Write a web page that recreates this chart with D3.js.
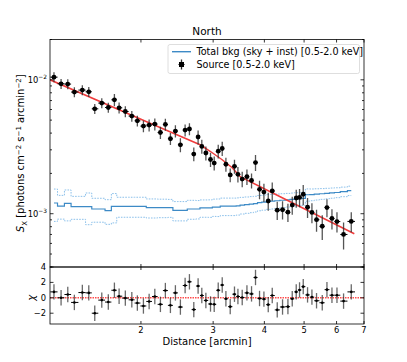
<!DOCTYPE html>
<html><head><meta charset="utf-8">
<script src="https://cdn.jsdelivr.net/npm/d3@7"></script>
<style>body{margin:0;background:#fff} svg{display:block} text{font-family:"DejaVu Sans",sans-serif;fill:#000}</style>
</head><body><svg id="c" width="407" height="362"></svg>
<script>
// ---------------- data ----------------
const distance = [1.227,1.277,1.326,1.376,1.439,1.492,1.543,1.605,1.665,1.723,
  1.769,1.832,1.900,1.960,2.028,2.094,2.162,2.231,2.294,2.360,
  2.427,2.496,2.563,2.626,2.691,2.757,2.815,2.880,2.956,3.018,
  3.087,3.157,3.223,3.302,3.382,3.448,3.532,3.627,3.722,3.806,
  3.893,3.990,4.088,4.181,4.300,4.430,4.566,4.678,4.784,4.874,
  4.976,5.098,5.225,5.362,5.537,5.685,5.847,6.014,6.241,6.517];
const flux = [1.047e-2,9.34e-3,9.29e-3,8.10e-3,8.38e-3,8.14e-3,6.07e-3,6.70e-3,6.21e-3,7.09e-3,
  6.18e-3,5.80e-3,5.36e-3,4.94e-3,4.51e-3,4.59e-3,4.67e-3,4.04e-3,4.64e-3,3.63e-3,
  4.14e-3,3.27e-3,4.21e-3,4.29e-3,2.79e-3,3.74e-3,3.18e-3,2.84e-3,2.54e-3,2.39e-3,
  2.93e-3,3.07e-3,2.34e-3,1.95e-3,2.26e-3,1.97e-3,1.815e-3,1.89e-3,1.77e-3,2.41e-3,
  1.52e-3,1.45e-3,1.244e-3,1.48e-3,1.062e-3,1.071e-3,1.026e-3,1.161e-3,1.31e-3,1.323e-3,
  1.398e-3,1.118e-3,1.023e-3,9.02e-4,8.06e-4,1.112e-3,9.22e-4,8.74e-4,7.0e-4,8.76e-4];
const fluxErr = [9.0e-4,8.0e-4,8.0e-4,7.0e-4,7.2e-4,7.0e-4,5.2e-4,5.8e-4,5.3e-4,7.3e-4,
  5.8e-4,5.5e-4,5.0e-4,4.6e-4,4.6e-4,4.7e-4,4.8e-4,4.2e-4,4.8e-4,3.7e-4,
  4.3e-4,3.9e-4,4.3e-4,4.4e-4,3.3e-4,4.5e-4,3.8e-4,3.4e-4,3.1e-4,2.9e-4,
  3.5e-4,3.7e-4,2.8e-4,2.3e-4,2.7e-4,2.6e-4,2.4e-4,2.5e-4,2.3e-4,3.3e-4,
  2.4e-4,2.25e-4,1.9e-4,2.3e-4,1.65e-4,1.66e-4,1.6e-4,1.8e-4,2.0e-4,2.05e-4,
  2.4e-4,1.9e-4,1.75e-4,1.7e-4,1.7e-4,1.7e-4,1.6e-4,1.5e-4,1.6e-4,1.5e-4];
const chi = [0.77,0.0,0.43,-0.6,0.68,0.64,-2.0,-0.3,-0.55,0.98,
  0.21,-0.04,-0.26,-0.68,-1.06,-0.47,0.17,-0.85,0.94,-0.98,
  0.64,-1.2,1.6,2.08,-1.53,1.53,0.3,-0.34,-0.8,-0.85,
  0.98,1.66,-0.13,-1.15,0.47,0.17,0.04,0.64,0.51,2.64,
  -0.09,-0.17,-0.89,0.3,-1.57,-1.19,-1.15,-0.13,0.77,1.02,
  1.45,0.38,0.09,-0.38,-0.64,1.06,0.34,0.34,-0.43,0.77];
const bkg = [1.202e-3,1.141e-3,1.194e-3,1.128e-3,1.128e-3,1.128e-3,1.084e-3,1.084e-3,1.053e-3,1.134e-3,
  1.134e-3,1.134e-3,1.134e-3,1.134e-3,1.134e-3,1.109e-3,1.109e-3,1.109e-3,1.109e-3,1.109e-3,
  1.058e-3,1.058e-3,1.058e-3,1.084e-3,1.084e-3,1.084e-3,1.104e-3,1.104e-3,1.104e-3,1.12e-3,
  1.12e-3,1.138e-3,1.138e-3,1.138e-3,1.138e-3,1.145e-3,1.16e-3,1.17e-3,1.18e-3,1.19e-3,
  1.21e-3,1.22e-3,1.235e-3,1.24e-3,1.25e-3,1.26e-3,1.27e-3,1.28e-3,1.29e-3,1.294e-3,
  1.30e-3,1.386e-3,1.39e-3,1.40e-3,1.41e-3,1.42e-3,1.43e-3,1.44e-3,1.46e-3,1.486e-3];
const bkgErr = [3.26e-4,2.3e-4,3.1e-4,2.2e-4,2.2e-4,3.0e-4,2.2e-4,2.2e-4,2.2e-4,2.8e-4,
  1.93e-4,1.93e-4,1.93e-4,1.93e-4,1.93e-4,1.8e-4,1.8e-4,1.75e-4,1.75e-4,1.7e-4,
  1.74e-4,1.74e-4,1.74e-4,1.75e-4,1.75e-4,1.7e-4,1.63e-4,1.63e-4,1.65e-4,1.65e-4,
  1.68e-4,1.7e-4,1.7e-4,1.7e-4,1.7e-4,1.68e-4,1.65e-4,1.63e-4,1.62e-4,1.6e-4,
  1.58e-4,1.57e-4,1.57e-4,1.55e-4,1.53e-4,1.5e-4,1.48e-4,1.46e-4,1.45e-4,1.45e-4,
  1.45e-4,1.46e-4,1.4e-4,1.35e-4,1.3e-4,1.28e-4,1.25e-4,1.22e-4,1.2e-4,1.2e-4];
const modelDist = [1.2,2.106,2.788,2.950,3.156,3.339,3.492,4.372,6.63];
const modelFlux = [1.0e-2,4.735e-3,3.273e-3,2.927e-3,2.529e-3,2.204e-3,1.888e-3,1.339e-3,7.09e-4];
const xTicks = [2,3,4,5,6,7];
const yMajorTicks = [1e-3,1e-2];
const chiTicks = [-2,0,2,4];

// ---------------- layout ----------------
const svg = d3.select("#c");
const L=50,R=364,T=39.5,M=267,B=324;
const x = d3.scaleLog().domain([1.2,7]).range([L,R]);
const y = d3.scaleLog().domain([4e-4,2e-2]).range([M,T]);
const yc = d3.scaleLinear().domain([-3.4,4]).range([B,M]);
const defs = svg.append("defs");
defs.append("clipPath").attr("id","cpT").append("rect").attr("x",L).attr("y",T).attr("width",R-L).attr("height",M-T);
defs.append("clipPath").attr("id","cpB").append("rect").attr("x",L).attr("y",M).attr("width",R-L).attr("height",B-M);

const n = distance.length, idx = d3.range(n);
const lo = idx.map(i => i===0 ? distance[0]-(distance[1]-distance[0])/2 : (distance[i-1]+distance[i])/2);
const hi = idx.map(i => i===n-1 ? distance[i]+(distance[i]-distance[i-1])/2 : (distance[i]+distance[i+1])/2);

// ---------------- top panel ----------------
const gT = svg.append("g").attr("clip-path","url(#cpT)");
const step = f => d3.line().x(i=>x(distance[i])).y(i=>y(f(i))).curve(d3.curveStep)(idx);
gT.append("path").attr("d",step(i=>bkg[i]+bkgErr[i])).attr("fill","none").attr("stroke","#8cc0ea").attr("stroke-width",1).attr("stroke-dasharray","1.6,1.2");
gT.append("path").attr("d",step(i=>bkg[i]-bkgErr[i])).attr("fill","none").attr("stroke","#8cc0ea").attr("stroke-width",1).attr("stroke-dasharray","1.6,1.2");
gT.append("path").attr("d",step(i=>bkg[i])).attr("fill","none").attr("stroke","#3d8ac6").attr("stroke-width",1.2);

gT.append("path").attr("d",d3.line().x((d,i)=>x(modelDist[i])).y(d=>y(d))(modelFlux))
  .attr("fill","none").attr("stroke","#f03c3c").attr("stroke-width",1.5);

const eb = gT.append("g");
idx.forEach(i=>{
  eb.append("line").attr("x1",x(distance[i])).attr("x2",x(distance[i]))
    .attr("y1",y(flux[i]-fluxErr[i])).attr("y2",y(flux[i]+fluxErr[i]))
    .attr("stroke","#2a2a2a").attr("stroke-opacity",0.8).attr("stroke-width",1.3);
  eb.append("line").attr("x1",x(lo[i])).attr("x2",x(hi[i]))
    .attr("y1",y(flux[i])).attr("y2",y(flux[i])).attr("stroke","#000").attr("stroke-width",1);
  eb.append("circle").attr("cx",x(distance[i])).attr("cy",y(flux[i])).attr("r",2.4).attr("fill","#000");
});

// ---------------- bottom panel ----------------
const gB = svg.append("g").attr("clip-path","url(#cpB)");
gB.append("line").attr("x1",L).attr("x2",R).attr("y1",yc(0)).attr("y2",yc(0))
  .attr("stroke","#ff3a3a").attr("stroke-width",1.6).attr("stroke-dasharray","1.5,1").attr("stroke-opacity",0.9);
idx.forEach(i=>{
  gB.append("line").attr("x1",x(distance[i])).attr("x2",x(distance[i]))
    .attr("y1",yc(chi[i]-1)).attr("y2",yc(chi[i]+1))
    .attr("stroke","#2a2a2a").attr("stroke-opacity",0.7).attr("stroke-width",1.3);
  gB.append("line").attr("x1",x(lo[i])).attr("x2",x(hi[i]))
    .attr("y1",yc(chi[i])).attr("y2",yc(chi[i])).attr("stroke","#000").attr("stroke-width",1);
  gB.append("circle").attr("cx",x(distance[i])).attr("cy",yc(chi[i])).attr("r",1.3).attr("fill","#000");
});

// ---------------- axes ----------------
const ax = svg.append("g").attr("stroke","#000").attr("stroke-width",0.8);
function tick(x1,y1,x2,y2){ ax.append("line").attr("x1",x1).attr("y1",y1).attr("x2",x2).attr("y2",y2); }
xTicks.forEach(v=>{
  const px=x(v);
  tick(px,T,px,T+3); tick(px,M,px,M-3); tick(px,M,px,M+3); tick(px,B,px,B-3);
});
for(let e=-4;e<=-2;e++){ for(let k=1;k<=9;k++){ const v=k*Math.pow(10,e);
  if(v<4e-4*0.999||v>2e-2*1.001) continue;
  const major = k===1, len = major?3.5:2, py=y(v);
  tick(L,py,L+len,py); tick(R,py,R-len,py);
}}
chiTicks.forEach(v=>{ const py=yc(v); tick(L,py,L+3.5,py); tick(R,py,R-3.5,py); });
ax.append("rect").attr("x",L).attr("y",T).attr("width",R-L).attr("height",M-T).attr("fill","none");
ax.append("rect").attr("x",L).attr("y",M).attr("width",R-L).attr("height",B-M).attr("fill","none");

// tick labels
const tl = svg.append("g").attr("font-size",8.33);
xTicks.forEach(v=>{
  tl.append("text").attr("x",x(v)).attr("y",B+9).attr("text-anchor","middle").text(v);
});
yMajorTicks.forEach(v=>{
  const t = tl.append("text").attr("x",L-3).attr("y",y(v)+3).attr("text-anchor","end");
  t.append("tspan").text("10");
  t.append("tspan").attr("dy",-3.5).attr("font-size",5.9).text("\u2212"+Math.round(-Math.log10(v)));
});
chiTicks.forEach(v=>{
  tl.append("text").attr("x",L-4).attr("y",yc(v)+3).attr("text-anchor","end").text(v<0?"\u2212"+(-v):v);
});

// titles and labels
svg.append("text").attr("x",(L+R)/2).attr("y",34.5).attr("text-anchor","middle").attr("font-size",10.5).text("North");
svg.append("text").attr("x",(L+R)/2).attr("y",345).attr("text-anchor","middle").attr("font-size",10).text("Distance [arcmin]");
const yl = svg.append("text").attr("transform",`translate(24,${(T+M)/2}) rotate(-90)`).attr("text-anchor","middle").attr("font-size",10);
[["S","it"],["X","sub"],[" [photons cm",""],["\u22122","sup"],[" s",""],["\u22121","sup"],[" arcmin",""],["\u22122","sup"],["]",""]]
 .reduce((prev,[t,k])=>{
   const s = yl.append("tspan").text(t);
   let dy = 0;
   if(prev==="sup") dy+=3.5; if(prev==="sub") dy-=2.5;
   if(k==="sup") { dy-=3.5; s.attr("font-size",7); }
   if(k==="sub") { dy+=2.5; s.attr("font-size",7); }
   if(k==="it") s.attr("font-style","italic");
   if(dy) s.attr("dy",dy);
   return k;
 },"");
svg.append("text").attr("transform",`translate(35,${yc(0)}) rotate(-90)`).attr("text-anchor","middle").attr("font-size",10).attr("font-style","italic").text("\u03c7");

// legend
const lg = svg.append("g");
lg.append("rect").attr("x",168).attr("y",44.5).attr("width",191.5).attr("height",29).attr("rx",2)
  .attr("fill","#fff").attr("fill-opacity",0.8).attr("stroke","#d5d5d5").attr("stroke-width",0.8);
lg.append("line").attr("x1",172).attr("x2",191).attr("y1",51.7).attr("y2",51.7).attr("stroke","#3d8ac6").attr("stroke-width",1.4);
lg.append("text").attr("x",196.5).attr("y",55.2).attr("font-size",9.6).text("Total bkg (sky + inst) [0.5-2.0 keV]");
lg.append("line").attr("x1",181.5).attr("x2",181.5).attr("y1",59.5).attr("y2",69.5).attr("stroke","#2a2a2a").attr("stroke-width",1.3);
lg.append("line").attr("x1",178.5).attr("x2",184.5).attr("y1",64.5).attr("y2",64.5).attr("stroke","#000").attr("stroke-width",1);
lg.append("rect").attr("x",179).attr("y",62).attr("width",5).attr("height",5).attr("fill","#000");
lg.append("text").attr("x",196.5).attr("y",68).attr("font-size",9.6).text("Source [0.5-2.0 keV]");
</script></body></html>
